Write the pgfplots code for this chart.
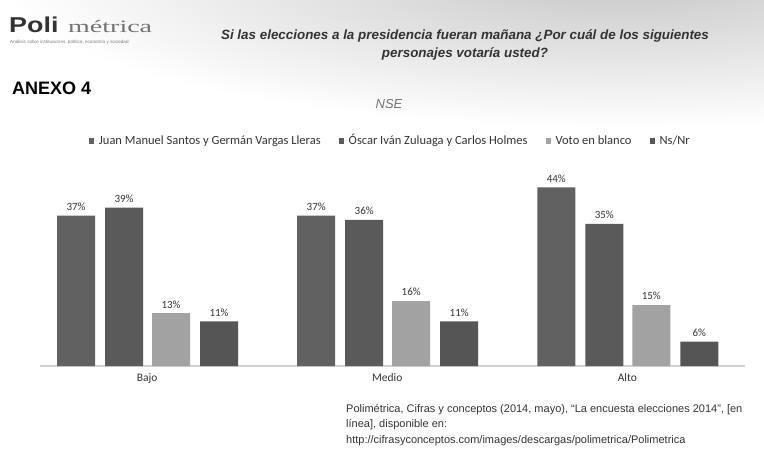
\documentclass[border=0pt]{standalone}
\usepackage{fontspec}
\setmainfont{Liberation Sans}
\newfontfamily\carlito{Carlito}
\newfontfamily\seriffam{Liberation Serif}
\usepackage{graphicx}
\usepackage{pgfplots}
\pgfplotsset{compat=1.18}
\definecolor{cA}{HTML}{616161}
\definecolor{cB}{HTML}{5A5A5A}
\definecolor{cC}{HTML}{A2A2A2}
\definecolor{cD}{HTML}{555555}
\definecolor{txt}{HTML}{333333}
\begin{document}
\begin{tikzpicture}[x=1pt,y=1pt]
\clip (0,0) rectangle (764,448);
\fill[white] (0,0) rectangle (764,448);
\shade[inner color=black!22, outer color=white] (620,470) ellipse (620 and 150);
% logo
\node[anchor=base west, inner sep=0pt, text=black!80] at (9,415) {\scalebox{1.25}[1]{\fontsize{21.5}{22}\selectfont\bfseries Poli}};
\node[anchor=base west, inner sep=0pt, text=black!55] at (68,415) {\scalebox{1.6}[1]{\seriffam\fontsize{17.5}{18}\selectfont métrica}};
\node[anchor=base west, inner sep=0pt, text=black!50] at (10,404) {\fontsize{4.6}{5}\selectfont Análisis sobre instituciones, política, economía y sociedad};
% title
\node[align=center, inner sep=0pt, text=txt, font=\fontsize{13.4}{17.5}\selectfont\bfseries\itshape] at (465,403) {Si las elecciones a la presidencia fueran mañana ¿Por cuál de los siguientes\\ personajes votaría usted?};
\node[anchor=west, inner sep=0pt, text=black] at (12,360) {\fontsize{18}{18}\selectfont\bfseries ANEXO 4};
\node[inner sep=0pt, text=black!55] at (389,344) {\fontsize{13}{13}\selectfont\itshape NSE};
% source
\node[anchor=base west, align=left, inner sep=0pt, text=txt, font=\fontsize{11}{15.5}\selectfont] at (346,5) {Polimétrica, Cifras y conceptos (2014, mayo), “La encuesta elecciones 2014”, [en\\ línea], disponible en:\\ http://cifrasyconceptos.com/images/descargas/polimetrica/Polimetrica};
\begin{axis}[
  at={(40pt,82pt)}, anchor=south west, scale only axis,
  width=705pt, height=195pt,
  xmin=-0.446, xmax=2.49, ymin=0, ymax=48,
  axis x line=bottom, hide y axis,
  x axis line style={-, draw=black!18, line width=2.5pt},
  xtick={0,1,2}, xticklabels={Bajo,Medio,Alto},
  xtick style={draw=none},
  /pgf/number format/assume math mode=true,
  ticklabel style={font=\carlito\fontsize{11.5}{12}\selectfont, text=txt},
  ybar, bar width=38pt,
  nodes near coords={\pgfmathprintnumber{\pgfplotspointmeta}\%},
  nodes near coords style={font=\carlito\fontsize{11}{12}\selectfont, text=txt, yshift=1.5pt},
  legend style={at={(0.497,1.154)}, anchor=center, draw=none, fill=none,
    legend columns=4, font=\carlito\fontsize{12.5}{13}\selectfont, text=txt,
    /tikz/every even column/.append style={column sep=16pt}},
  legend image code/.code={\fill[#1] (0pt,-2.6pt) rectangle (5.2pt,2.6pt); \path (0pt,0pt) -- (8pt,0pt);},
]
\addplot[fill=cA, draw=none, bar shift=-71pt] coordinates {(0,37) (1,37) (2,44)};
\addplot[fill=cB, draw=none, bar shift=-23pt] coordinates {(0,39) (1,36) (2,35)};
\addplot[fill=cC, draw=none, bar shift=24pt] coordinates {(0,13) (1,16) (2,15)};
\addplot[fill=cD, draw=none, bar shift=72pt] coordinates {(0,11) (1,11) (2,6)};
\legend{Juan Manuel Santos y Germán Vargas Lleras, \smash{Ó}scar Iván Zuluaga y Carlos Holmes, Voto en blanco, Ns/Nr}
\end{axis}
\end{tikzpicture}
\end{document}
